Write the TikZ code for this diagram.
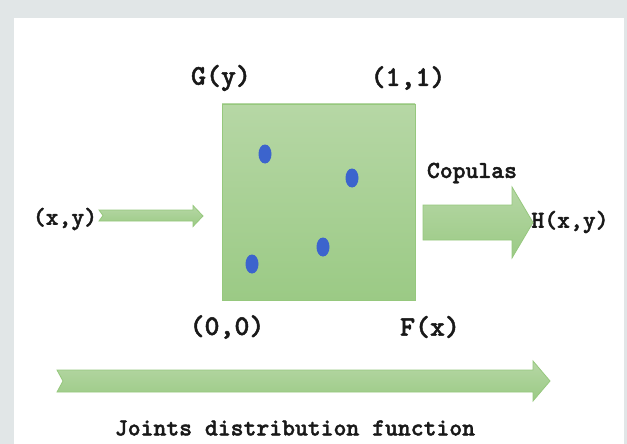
\documentclass[tikz,border=0pt]{standalone}
\usepackage{fontspec}
\newfontfamily\cour{lmmonolt10-bold}[Extension=.otf, FakeBold=1.6]
\definecolor{bggray}{RGB}{225,230,231}
\definecolor{gtop}{RGB}{182,215,165}
\definecolor{gbot}{RGB}{155,202,133}
\definecolor{gedge}{RGB}{150,200,125}
\definecolor{dotblue}{RGB}{60,100,205}
\definecolor{txt}{RGB}{25,25,25}
\usetikzlibrary{shapes.geometric}
\tikzset{
  lbl/.style={font=\cour\fontsize{28.5}{32}\selectfont, text=txt, inner sep=0pt},
  slbl/.style={font=\cour\fontsize{24.5}{28}\selectfont, text=txt, inner sep=0pt},
  barrow/.style={top color=gtop, bottom color=gbot, draw=gedge, line width=0.8pt, line join=miter},
  dotmark/.style={ellipse, fill=dotblue, draw=none, minimum width=13pt, minimum height=19pt, inner sep=0pt}
}
\begin{document}
\begin{tikzpicture}[x=1pt,y=-1pt]
\fill[bggray] (0,0) rectangle (627,444);
\fill[white] (14,18) rectangle (624,444);
\useasboundingbox (0,0) rectangle (627,444);
% square
\node[draw=gedge, top color=gtop, bottom color=gbot, line width=0.8pt, minimum width=193pt, minimum height=196pt, inner sep=0pt] (sq) at (318.5,202) {};
% dots
\node[dotmark] (d1) at (265,154) {};
\node[dotmark] (d2) at (352,178) {};
\node[dotmark] (d3) at (323,247) {};
\node[dotmark] (d4) at (252,264) {};
% labels
\node[lbl] (gy) at (221,78) {G(y)};
\node[lbl] (one) at (408,78) {(1,1)};
\node[lbl] (zero) at (227,327) {(0,0)};
\node[lbl] (fx) at (430,327) {F(x)};
\node[slbl] (xy) at (65,219) {(x,y)};
\node[slbl] (cop) at (472,173) {Copulas};
\node[slbl] (hxy) at (570,222) {H(x,y)};
\node[slbl] (jdf) at (295,428) {Joints distribution function};
% left arrow
\draw[barrow] (99,210) -- (193,210) -- (193,205.5) -- (203,216) -- (193,226.5) -- (193,221) -- (99,221) -- (103,215.5) -- cycle;
% right arrow
\draw[barrow] (423,205) -- (512,205) -- (512,187) -- (533,222.5) -- (512,258) -- (512,240) -- (423,240) -- cycle;
% bottom arrow
\draw[barrow] (57,370) -- (533,370) -- (533,361) -- (550,381) -- (533,401) -- (533,392) -- (57,392) -- (63,381) -- cycle;
\end{tikzpicture}
\end{document}
